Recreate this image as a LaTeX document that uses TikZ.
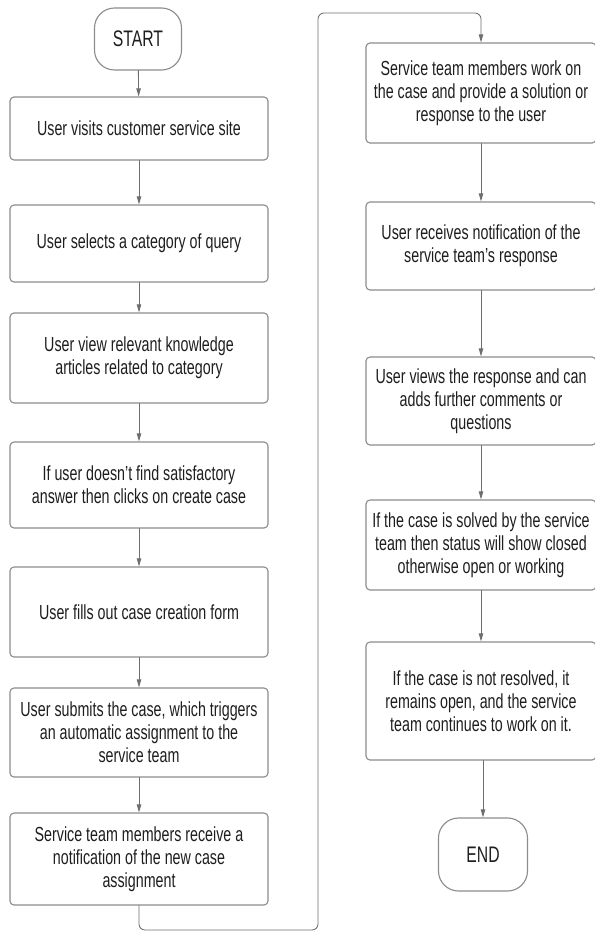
\documentclass[tikz,border=0pt]{standalone}
\usepackage{fontspec}
\setmainfont{Liberation Sans}[FakeStretch=0.7]
\usetikzlibrary{arrows.meta}

\definecolor{boxline}{HTML}{8C8C8C}
\definecolor{flowline}{HTML}{6E6E6E}
\definecolor{inktext}{HTML}{1E1E1E}

\begin{document}
\begin{tikzpicture}[x=0.25mm, y=-0.25mm, line cap=round, line join=round,
    >={Triangle[length=2mm,width=1.1mm]},
    every node/.style={font=\fontsize{14.5pt}{16.5pt}\selectfont, text=inktext},
    stepbox/.style={draw=boxline, line width=0.8pt, rounded corners=1mm, align=center, inner sep=0pt},
    leftbox/.style={stepbox, minimum width=64.5mm},
    rightbox/.style={stepbox, minimum width=57.5mm},
    terminal/.style={draw=boxline, line width=0.8pt, rounded corners=5mm, align=center,
                     font=\fontsize{16pt}{18pt}\selectfont},
    flow/.style={draw=flowline, line width=0.6pt, ->}]
  \useasboundingbox (0,0) rectangle (595,932);

  % left column
  \node[terminal, minimum width=21.75mm, minimum height=15.5mm] (start) at (138,39) {START};
  \node[leftbox, minimum height=15.75mm] (l1) at (139,128.5) {User visits customer service site};
  \node[leftbox, minimum height=19.25mm] (l2) at (139,243.5) {User selects a category of query};
  \node[leftbox, minimum height=22.5mm] (l3) at (139,358) {User view relevant knowledge\\articles related to category};
  \node[leftbox, minimum height=21.5mm] (l4) at (139,485) {If user doesn't find satisfactory\\answer then clicks on create case};
  \node[leftbox, minimum height=22.5mm] (l5) at (139,612) {User fills out case creation form};
  \node[leftbox, minimum height=22.25mm] (l6) at (139,732.5) {User submits the case, which triggers\\an automatic assignment to the\\service team};
  \node[leftbox, minimum height=23mm] (l7) at (139,859) {Service team members receive a\\notification of the new case\\assignment};

  % right column
  \node[rightbox, minimum height=25mm] (r1) at (481,93) {Service team members work on\\the case and provide a solution or\\response to the user};
  \node[rightbox, minimum height=22mm] (r2) at (481,246) {User receives notification of the\\service team's response};
  \node[rightbox, minimum height=22mm] (r3) at (481,401) {User views the response and can\\adds further comments or\\questions};
  \node[rightbox, minimum height=22.5mm] (r4) at (481,545) {If the case is solved by the service\\team then status will show closed\\otherwise open or working};
  \node[rightbox, minimum height=29.5mm] (r5) at (481,701) {If the case is not resolved, it\\remains open, and the service\\team continues to work on it.};
  \node[terminal, minimum width=22.25mm, minimum height=18.25mm] (end) at (483,854.5) {END};

  % turn from the left column to the right one
  \coordinate (lowturn) at (318,930);
  \coordinate (topturn) at (318,13);

  \foreach \a/\b in {start/l1, l1/l2, l2/l3, l3/l4, l4/l5, l5/l6, l6/l7,
                     r1/r2, r2/r3, r3/r4, r4/r5}
    \draw[flow] (\a) -- (\b);
  \draw[flow] (r5.south -| end) -- (end);
  \draw[flow, rounded corners=1.5mm] (l7.south) |- (lowturn) -- (topturn) -| (r1.north);
\end{tikzpicture}
\end{document}
